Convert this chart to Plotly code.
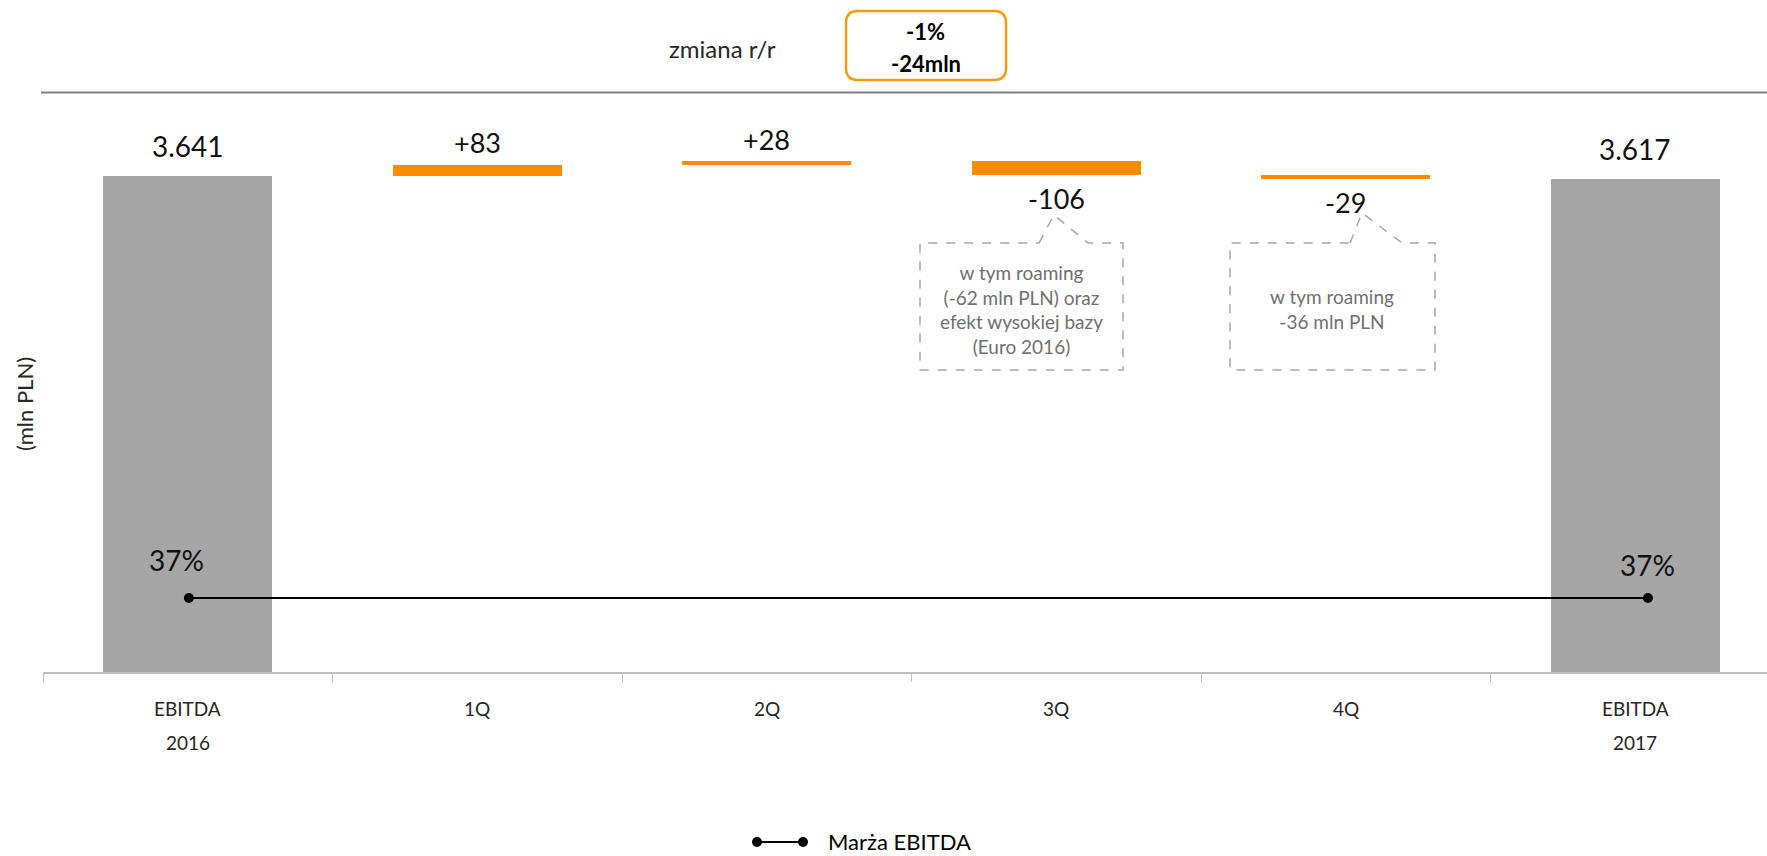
import plotly.graph_objects as go

# ---- data -------------------------------------------------------------
categories = ["EBITDA 2016", "1Q", "2Q", "3Q", "4Q", "EBITDA 2017"]
ebitda_2016 = 3641
quarter_changes = [83, 28, -106, -29]
ebitda_2017 = 3617
margin_values = [37, 37]          # Marża EBITDA, %
yoy_change_pct = "-1%"
yoy_change_abs = "-24mln"
note_3q = ["w tym roaming", "(-62 mln PLN) oraz", "efekt wysokiej bazy", "(Euro 2016)"]
note_4q = ["w tym roaming", "-36 mln PLN"]

# ---- page geometry ----------------------------------------------------
W, H = 1767, 856
ML, MR, MT, MB = 43, 0, 100, 184
PW, PH = W - ML - MR, H - MT - MB


def px(x):
    return (x - ML) / PW


def py(y):
    return (H - MB - y) / PH


FONT = "Lato, 'Open Sans', sans-serif"
GREY_BAR = "#A6A6A6"
ORANGE = "#FF8C00"
TXT = "#111111"

# waterfall bases for the quarterly steps
bases = []
running = ebitda_2016
for ch in quarter_changes:
    bases.append(running)
    running += ch
total_cats = [categories[0], categories[-1]]
total_vals = [ebitda_2016, ebitda_2017]
step_cats = categories[1:-1]

fig = go.Figure()
fig.add_trace(go.Bar(
    x=total_cats, y=total_vals, width=0.585,
    marker=dict(color=GREY_BAR, line=dict(width=0)),
    showlegend=False, hoverinfo="skip",
))
fig.add_trace(go.Bar(
    x=step_cats, y=quarter_changes, base=bases, width=0.585,
    marker=dict(color=ORANGE, line=dict(width=0)),
    showlegend=False, hoverinfo="skip",
))
fig.add_trace(go.Scatter(
    x=total_cats, y=margin_values, xaxis="x2", yaxis="y2",
    mode="lines+markers", name="Marża EBITDA",
    line=dict(color="#000000", width=2),
    marker=dict(color="#000000", size=10),
    showlegend=False, hoverinfo="skip",
))


def label(x, y, text, size, color, xref="paper", yref="paper", **kw):
    d = dict(x=x, y=y, xref=xref, yref=yref, text=text, showarrow=False,
             xanchor="center", yanchor="middle",
             font=dict(family=FONT, size=size, color=color))
    d.update(kw)
    return d


ann = []
# totals labels
for c, v in zip(total_cats, total_vals):
    ann.append(label(c, v, f"{v:,}".replace(",", "."), 28, TXT,
                     xref="x", yref="y", yshift=30))
# step labels
for c, b, ch in zip(step_cats, bases, quarter_changes):
    top = max(b, b + ch)
    bot = min(b, b + ch)
    if ch >= 0:
        ann.append(label(c, top, f"{ch:+d}", 27, TXT, xref="x", yref="y", yshift=22))
    else:
        ann.append(label(c, bot, f"{ch:+d}", 27, TXT, xref="x", yref="y", yshift=-23))
# margin labels
for c, m, dx, dy in zip(total_cats, margin_values, [-12, 0], [38, 33]):
    ann.append(label(c, m, f"{m}%", 28, TXT, xref="x2", yref="y2",
                     xshift=dx, yshift=dy))
# category labels (two rows)
for c in categories:
    for i, p in enumerate(c.split(" ")):
        ann.append(label(c, py(709 + 33 * i), p, 19, "#262626", xref="x"))
# axis title
ann.append(label(px(24), py(404), "(mln PLN)", 22, "#262626", textangle=-90))
# year-on-year header
ann.append(label(px(722), py(48), "zmiana r/r", 24, "#262626"))
ann.append(label(px(926), py(32), f"<b>{yoy_change_pct}</b>", 22, "#000000"))
ann.append(label(px(926), py(63), f"<b>{yoy_change_abs}</b>", 22, "#000000"))
# callout notes
ann.append(label(px(1022), py(309), "<br>".join(note_3q), 19, "#707070"))
ann.append(label(px(1332), py(309), "<br>".join(note_4q), 19, "#707070"))
# legend text
ann.append(label(px(826), py(842), "Marża EBITDA", 22, "#000000", xanchor="left"))

shapes = []
# header separator
shapes.append(dict(type="line", xref="paper", yref="paper",
                   x0=px(41), x1=px(W), y0=py(92.5), y1=py(92.5),
                   line=dict(color="#7F7F7F", width=2)))


def rounded_box(x0, y0, x1, y1, r):
    rx, ry = r / PW, r / PH
    X0, X1, Y0, Y1 = px(x0), px(x1), py(y0), py(y1)
    return (f"M {X0 + rx},{Y0} L {X1 - rx},{Y0} Q {X1},{Y0} {X1},{Y0 - ry} "
            f"L {X1},{Y1 + ry} Q {X1},{Y1} {X1 - rx},{Y1} "
            f"L {X0 + rx},{Y1} Q {X0},{Y1} {X0},{Y1 + ry} "
            f"L {X0},{Y0 - ry} Q {X0},{Y0} {X0 + rx},{Y0} Z")


shapes.append(dict(type="path", xref="paper", yref="paper",
                   path=rounded_box(846, 11, 1006, 80, 12),
                   line=dict(color="#F39C12", width=2.5)))


def callout(x0, y0, x1, y1, lx, ax, ay, rx):
    pts = [(lx, y0), (ax, ay), (rx, y0), (x1, y0), (x1, y1), (x0, y1), (x0, y0)]
    s = f"M {px(pts[0][0])},{py(pts[0][1])} "
    s += " ".join(f"L {px(a)},{py(b)}" for a, b in pts[1:])
    return s + " Z"


for geo in [(920, 243, 1123, 370, 1039, 1054, 215, 1088),
            (1230, 243, 1435, 370, 1350, 1362, 213, 1402)]:
    shapes.append(dict(type="path", xref="paper", yref="paper",
                       path=callout(*geo),
                       line=dict(color="#A6A6A6", width=1.5, dash="dash")))

# legend glyph: line with two end dots
shapes.append(dict(type="line", xref="paper", yref="paper",
                   x0=px(757), x1=px(803), y0=py(842), y1=py(842),
                   line=dict(color="#000000", width=2)))
for cx in (757, 803):
    shapes.append(dict(type="circle", xref="paper", yref="paper",
                       x0=px(cx - 5), x1=px(cx + 5), y0=py(842 - 5), y1=py(842 + 5),
                       fillcolor="#000000", line=dict(color="#000000", width=0)))

fig.update_layout(
    width=W, height=H,
    margin=dict(l=ML, r=MR, t=MT, b=MB, pad=0),
    paper_bgcolor="white", plot_bgcolor="white",
    barmode="overlay", bargap=0,
    font=dict(family=FONT),
    xaxis=dict(type="category", categoryorder="array", categoryarray=categories,
               range=[-0.5, 5.455], showgrid=False, zeroline=False,
               showline=True, linecolor="#BFBFBF", linewidth=2,
               ticks="outside", tickson="boundaries", ticklen=8,
               tickcolor="#BFBFBF", tickwidth=1, showticklabels=False,
               fixedrange=True),
    xaxis2=dict(type="category", categoryorder="array", categoryarray=categories,
                range=[-0.5, 5.408], overlaying="x", visible=False),
    yaxis=dict(range=[0, 4200], visible=False, fixedrange=True),
    yaxis2=dict(range=[0, 286], overlaying="y", visible=False),
    annotations=ann,
    shapes=shapes,
    showlegend=False,
)

fig.write_html("out.html")
